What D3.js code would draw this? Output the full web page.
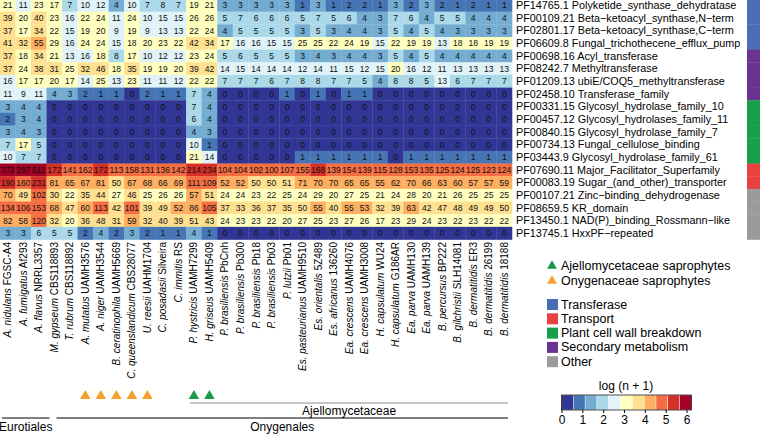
<!DOCTYPE html>
<html>
<head>
<meta charset="utf-8">
<script src="https://cdn.jsdelivr.net/npm/d3@7"></script>
<style>
  body { margin: 0; background: #fff; }
  svg { display: block; font-family: "Liberation Sans", Arial, Helvetica, sans-serif; }
</style>
</head>
<body>
<svg id="chart" width="760" height="435"></svg>
<script>
var species = [
  "A. nidulans FGSC-A4", "A. fumigatus Af293", "A. flavus NRRL3357", "M. gypseum CBS118893",
  "T. rubrum CBS118892", "A. mutatus UAMH3576", "A. niger UAMH3544", "B. ceratinophila UAMH5669",
  "C. queenslandicum CBS28077", "U. reesii UAHM1704", "C. posadasii Silveira", "C. immitis RS",
  "P. hystricis UAMH7299", "H. griseus UAMH5409", "P. brasiliensis PbCnh", "P. brasiliensis Pb300",
  "P. brasiliensis Pb18", "P. brasiliensis Pb03", "P. lutzii Pb01", "Es. pasteurianus UAMH9510",
  "Es. orientalis 5Z489", "Es. africanus 136260", "Ea. crescens UAMH4076", "Ea. crescens UAMH3008",
  "H. capsulatum WU24", "H. capsulatum G186AR", "Ea. parva UAMH130", "Ea. parva UAMH139",
  "B. percursus BP222", "B. gilchristii SLH14081", "B. dermatitidis ER3", "B. dermatitidis 26199",
  "B. dermatitidis 18188"
];

var pfams = [
  "PF14765.1 Polyketide_synthase_dehydratase",
  "PF00109.21 Beta\u2212ketoacyl_synthase,N\u2212term",
  "PF02801.17 Beta\u2212ketoacyl_synthase,C\u2212term",
  "PF06609.8 Fungal_trichothecene_efflux_pump",
  "PF00698.16 Acyl_transferase",
  "PF08242.7 Methyltransferase",
  "PF01209.13 ubiE/COQ5_methyltransferase",
  "PF02458.10 Transferase_family",
  "PF00331.15 Glycosyl_hydrolase_family_10",
  "PF00457.12 Glycosyl_hydrolases_family_11",
  "PF00840.15 Glycosyl_hydrolase_family_7",
  "PF00734.13 Fungal_cellulose_binding",
  "PF03443.9 Glycosyl_hydrolase_family_61",
  "PF07690.11 Major_Facilitator_Superfamily",
  "PF00083.19 Sugar_(and_other)_transporter",
  "PF00107.21 Zinc\u2212binding_dehydrogenase",
  "PF08659.5 KR_domain",
  "PF13450.1 NAD(P)_binding_Rossmann\u2212like",
  "PF13745.1 HxxPF\u2212repeated"
];

// gene counts, one row per Pfam domain, one value per genome
var counts = [
  [21,11,23,17,7,10,12,4,10,7,8,7,19,21,3,3,3,3,3,1,3,1,2,2,1,3,2,3,2,1,2,1,1],
  [39,20,40,23,16,22,24,11,24,10,15,15,26,26,5,7,6,6,6,5,7,5,6,4,3,7,6,4,5,5,4,4,4],
  [37,17,34,22,15,19,20,9,19,9,13,13,22,24,4,5,5,5,5,3,5,3,4,4,3,5,4,5,4,3,3,3,3],
  [41,32,55,29,16,24,24,15,18,20,23,22,42,34,17,16,16,15,15,25,25,22,24,19,15,22,19,19,13,18,18,19,19],
  [37,18,34,21,13,16,18,8,17,10,12,12,23,24,5,6,5,5,5,3,4,3,4,4,3,5,4,5,4,4,4,4,4],
  [37,24,38,31,25,32,46,18,35,19,19,20,39,42,14,15,14,14,14,12,14,11,15,12,15,20,16,12,11,13,13,13,13],
  [16,17,17,20,17,14,25,13,23,11,11,12,22,22,7,7,7,6,7,8,8,7,7,5,4,8,8,5,13,6,7,7,7],
  [11,9,11,4,3,2,1,1,0,2,1,1,7,4,0,0,0,0,1,0,1,0,1,1,0,0,0,0,0,0,0,0,0],
  [3,4,4,0,0,0,0,0,0,0,0,0,7,4,0,0,0,0,0,0,0,0,0,0,0,0,0,0,0,0,0,0,0],
  [2,3,4,0,0,0,0,0,0,0,0,0,6,4,0,0,0,0,0,0,0,0,0,0,0,0,0,0,0,0,0,0,0],
  [3,4,3,0,0,0,0,0,0,0,0,0,4,3,0,0,0,0,0,0,0,0,0,0,0,0,0,0,0,0,0,0,0],
  [7,17,5,0,0,0,0,0,0,0,0,0,10,1,0,0,0,0,0,0,0,0,0,0,0,0,0,0,0,0,0,0,0],
  [10,7,7,0,0,0,0,0,0,0,0,0,21,14,0,0,0,0,0,1,1,1,1,1,1,0,1,1,1,1,1,1,1],
  [372,297,511,172,141,162,172,113,158,131,136,142,214,234,104,104,102,100,107,155,168,139,154,139,115,128,153,135,125,124,125,123,124],
  [190,160,231,81,65,67,81,50,67,68,66,69,111,109,52,52,50,50,51,71,70,70,65,65,55,62,70,66,63,60,57,57,59],
  [70,49,102,30,22,35,44,27,46,25,26,26,57,51,24,24,23,22,25,24,29,20,27,25,21,24,28,20,21,26,25,25,25],
  [134,106,153,68,47,60,113,42,101,39,49,52,86,105,37,33,36,37,35,50,55,40,55,53,32,39,63,42,47,48,49,49,50],
  [82,58,120,32,20,36,48,31,59,32,40,39,51,43,24,23,23,22,20,27,25,23,27,26,17,23,29,24,23,22,23,22,22],
  [3,3,6,5,5,2,4,2,3,2,1,1,4,1,0,0,0,0,0,0,0,0,0,0,0,0,0,0,0,0,0,0,0]
];

var rowGroup = [
  "Transferase","Transferase","Transferase","Transferase",
  "Secondary metabolism","Secondary metabolism","Secondary metabolism","Secondary metabolism",
  "Plant cell wall breakdown","Plant cell wall breakdown","Plant cell wall breakdown","Plant cell wall breakdown","Plant cell wall breakdown",
  "Transport","Transport",
  "Other","Other","Other","Other"
];

var groupNames = ["Transferase", "Transport", "Plant cell wall breakdown", "Secondary metabolism", "Other"];
var groupColors = ["#4a6db3", "#e8413f", "#17a04a", "#6a3291", "#9b9b9b"];

var ajelloSaprophytes = ["P. hystricis UAMH7299", "H. griseus UAMH5409"];
var onygenSaprophytes = ["A. mutatus UAMH3576", "A. niger UAMH3544", "B. ceratinophila UAMH5669",
                         "C. queenslandicum CBS28077", "U. reesii UAHM1704"];

var cladeNames = ["Eurotiales", "Onygenales"];
var cladeFirst = ["A. nidulans FGSC-A4", "M. gypseum CBS118893"];
var cladeLast = ["A. flavus NRRL3357", "B. dermatitidis 18188"];
var familyName = "Ajellomycetaceae";
var familyFirst = "P. hystricis UAMH7299";
var familyLast = "B. dermatitidis 18188";

var svg = d3.select("#chart");

var x = d3.scaleBand().domain(species).range([0, 512]);
var y = d3.scaleBand().domain(pfams).range([-1, 239.5]);

var logged = [];
counts.forEach(function (row) { row.forEach(function (v) { logged.push(Math.log(v + 1)); }); });
var color = d3.scaleQuantize()
    .domain([0, d3.max(logged)])
    .range(d3.schemeRdYlBu[11].slice().reverse());

var cells = [];
counts.forEach(function (row, r) {
  row.forEach(function (v, c) {
    cells.push({ pfam: pfams[r], sp: species[c], n: v });
  });
});

var heat = svg.append("g");
heat.selectAll("rect")
    .data(cells)
  .enter().append("rect")
    .attr("x", function (d) { return x(d.sp); })
    .attr("y", function (d) { return y(d.pfam); })
    .attr("width", x.bandwidth() + 0.3)
    .attr("height", y.bandwidth() + 0.3)
    .attr("fill", function (d) { return color(Math.log(d.n + 1)); });

heat.selectAll("text")
    .data(cells)
  .enter().append("text")
    .attr("x", function (d) { return x(d.sp) + x.bandwidth() / 2; })
    .attr("y", function (d) { return y(d.pfam) + y.bandwidth() / 2; })
    .attr("dy", "0.36em")
    .attr("text-anchor", "middle")
    .style("font-size", "8.5px")
    .attr("fill", "#111")
    .text(function (d) { return d.n; });

// row labels
svg.append("g").selectAll("text")
    .data(pfams)
  .enter().append("text")
    .attr("x", 516)
    .attr("y", function (d) { return y(d) + y.bandwidth() / 2; })
    .attr("dy", "0.35em")
    .style("font-size", "10.8px")
    .text(function (d) { return d; });

// side colour bar
var groupColor = d3.scaleOrdinal().domain(groupNames).range(groupColors);
svg.append("g").selectAll("rect")
    .data(pfams)
  .enter().append("rect")
    .attr("x", 747)
    .attr("y", function (d) { return y(d); })
    .attr("width", 14)
    .attr("height", y.bandwidth() + 0.3)
    .attr("fill", function (d, i) { return groupColor(rowGroup[i]); });

// species labels
var spLab = svg.append("g").selectAll("text")
    .data(species)
  .enter().append("text")
    .attr("transform", function (d) {
      return "translate(" + (x(d) + x.bandwidth() / 2) + ",242) rotate(-90)";
    })
    .attr("dy", "0.35em")
    .attr("text-anchor", "end")
    .style("font-size", "10px");
spLab.append("tspan")
    .style("font-style", "italic")
    .text(function (d) { return d.slice(0, d.lastIndexOf(" ")); });
spLab.append("tspan")
    .text(function (d) { return " " + d.slice(d.lastIndexOf(" ") + 1); });

// saprophyte triangles
var tri = d3.symbol().type(d3.symbolTriangle).size(48);
svg.append("g").selectAll("path")
    .data(onygenSaprophytes.map(function (s) { return { sp: s, c: "#f5a02c" }; })
      .concat(ajelloSaprophytes.map(function (s) { return { sp: s, c: "#1a9a4a" }; })))
  .enter().append("path")
    .attr("d", tri)
    .attr("transform", function (d) { return "translate(" + (x(d.sp) + x.bandwidth() / 2) + ",396)"; })
    .attr("fill", function (d) { return d.c; });

// clade brackets
var fx0 = x(familyFirst) + 4, fx1 = x(familyLast) + x.bandwidth() - 4;
svg.append("line").attr("x1", fx0).attr("x2", fx1).attr("y1", 403).attr("y2", 403)
    .attr("stroke", "#8c8c8c").attr("stroke-width", 1.2);
svg.append("text").attr("x", (fx0 + fx1) / 2).attr("y", 415).attr("text-anchor", "middle")
    .style("font-size", "12px").text(familyName);

cladeNames.forEach(function (name, i) {
  var a = x(cladeFirst[i]) + (i === 0 ? 2 : 10), b = x(cladeLast[i]) + x.bandwidth() + (i === 0 ? 3 : -4);
  svg.append("line").attr("x1", a).attr("x2", b).attr("y1", 418).attr("y2", 418)
      .attr("stroke", "#000").attr("stroke-width", 1);
  svg.append("text").attr("x", (a + b) / 2).attr("y", 431).attr("text-anchor", "middle")
      .style("font-size", "12px").text(name);
});

// legend: triangles
var leg = svg.append("g").style("font-size", "12.5px");
[["Ajellomycetaceae saprophytes", "#1a9a4a"], ["Onygenaceae saprophytes", "#f5a02c"]].forEach(function (d, i) {
  leg.append("path").attr("d", d3.symbol().type(d3.symbolTriangle).size(42))
      .attr("transform", "translate(552," + (266 + i * 15) + ")").attr("fill", d[1]);
  leg.append("text").attr("x", 561).attr("y", 270 + i * 15).text(d[0]);
});

// legend: groups
groupNames.forEach(function (g, i) {
  leg.append("rect").attr("x", 547).attr("y", 299 + i * 14.3).attr("width", 11).attr("height", 11)
      .attr("fill", groupColors[i]);
  leg.append("text").attr("x", 561).attr("y", 308.5 + i * 14.3).text(g);
});

// legend: colour key
var lx = d3.scaleLinear().domain([0, 6]).range([561.5, 686.5]);
var edges = [0].concat(color.thresholds()).concat([color.domain()[1]]);
var key = svg.append("g");
key.selectAll("rect")
    .data(d3.range(edges.length - 1))
  .enter().append("rect")
    .attr("x", function (i) { return lx(edges[i]); })
    .attr("y", 395)
    .attr("width", function (i) { return lx(edges[i + 1]) - lx(edges[i]); })
    .attr("height", 15)
    .attr("fill", function (i) { return color.range()[i]; })
    .attr("stroke", "#fff")
    .attr("stroke-width", 0.4);
key.append("rect")
    .attr("x", lx(0)).attr("y", 395)
    .attr("width", lx(edges[edges.length - 1]) - lx(0)).attr("height", 15)
    .attr("fill", "none").attr("stroke", "#222").attr("stroke-width", 0.8);
var keyAxis = key.append("g")
    .attr("transform", "translate(0,410)")
    .call(d3.axisBottom(lx).ticks(6).tickSize(3).tickPadding(2));
keyAxis.select(".domain").remove();
keyAxis.selectAll("text").style("font-size", "12px").attr("fill", "#000")
    .style("font-family", "Liberation Sans, Arial, sans-serif");
key.append("text").attr("x", 626).attr("y", 390).attr("text-anchor", "middle")
    .style("font-size", "12px").text("log (n + 1)");
</script>
</body>
</html>
